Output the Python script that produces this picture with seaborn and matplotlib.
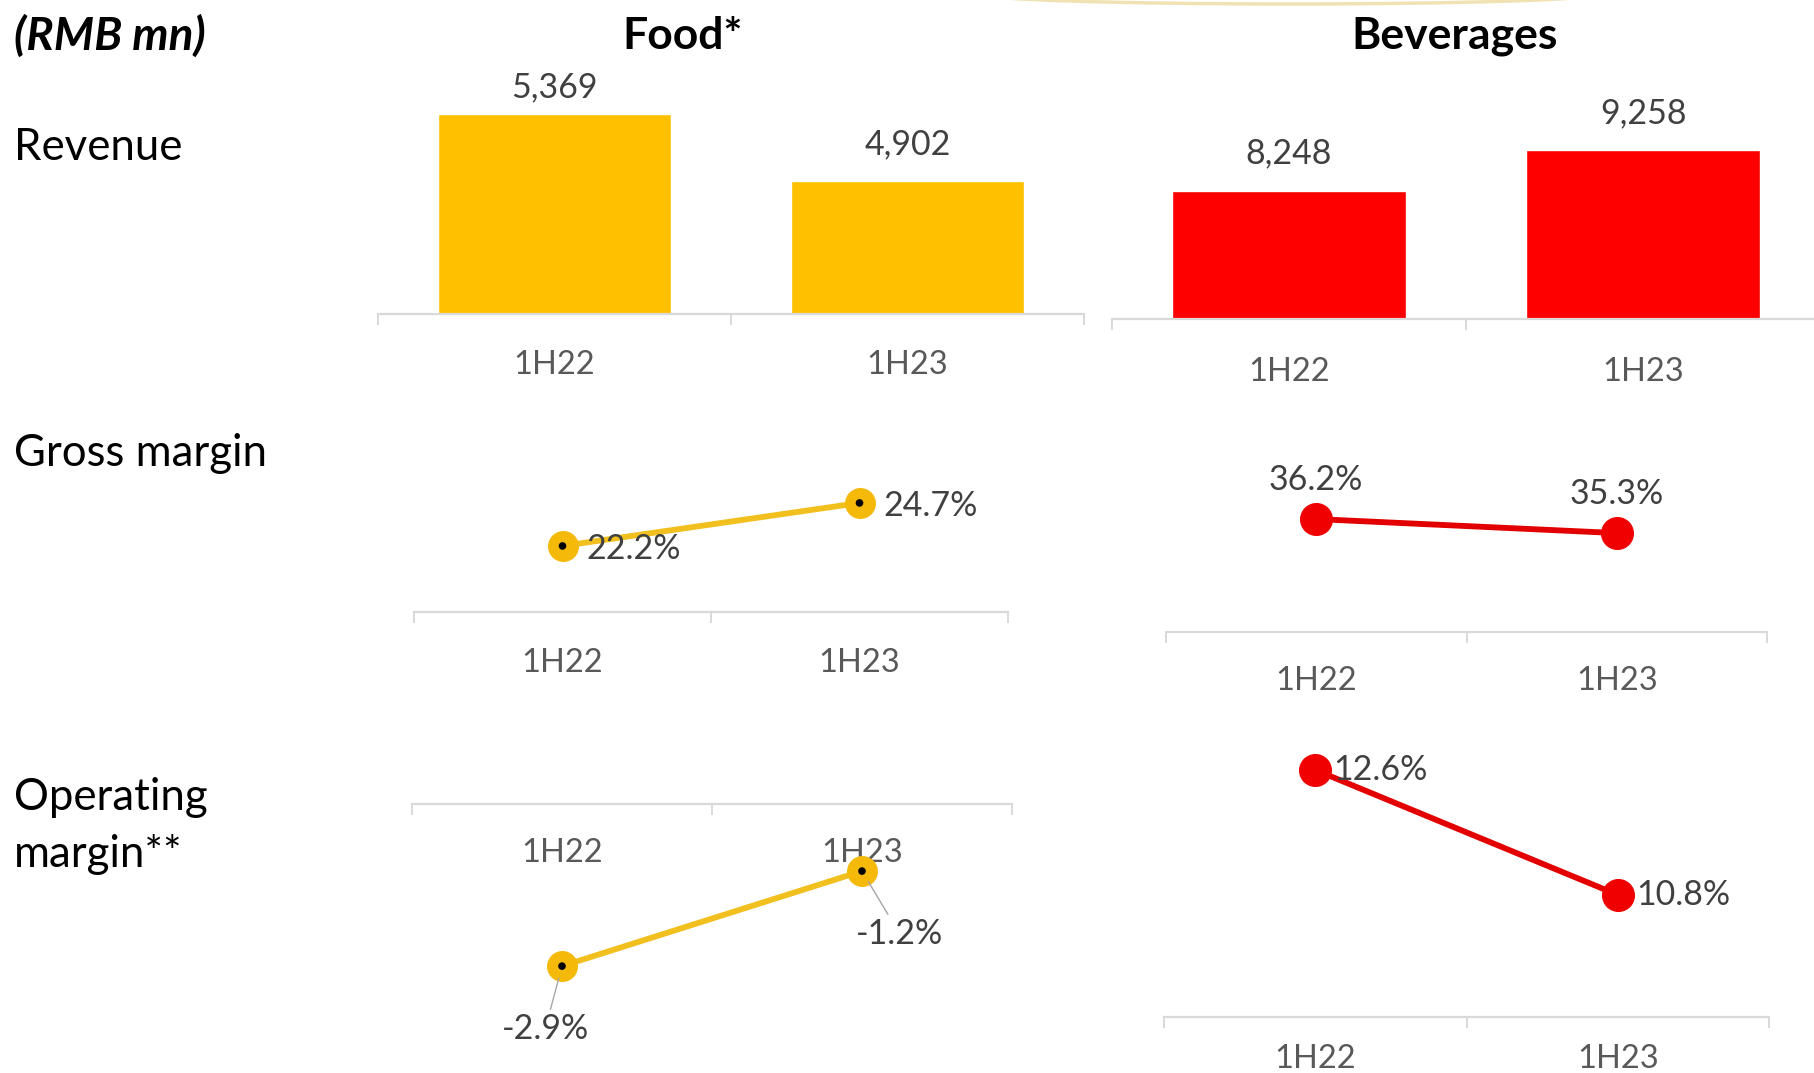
import matplotlib
matplotlib.use("Agg")
import matplotlib.pyplot as plt
from matplotlib.patches import Arc
import seaborn as sns
import pandas as pd

# ---- data -------------------------------------------------------------
periods = ["1H22", "1H23"]
food_revenue = [5369, 4902]
bev_revenue = [8248, 9258]
food_gross_margin = [22.2, 24.7]
bev_gross_margin = [36.2, 35.3]
food_op_margin = [-2.9, -1.2]
bev_op_margin = [12.6, 10.8]

row_titles = ["Revenue", "Gross margin", "Operating\nmargin**"]
col_titles = ["Food*", "Beverages"]
unit_label = "(RMB mn)"

# ---- style ------------------------------------------------------------
sns.set_theme(style="white")
plt.rcParams["font.family"] = ["Lato", "DejaVu Sans"]

FOOD_BAR = "#FFC000"
FOOD_LINE = "#F2C01E"
FOOD_MARK = "#F5B90A"
BEV_BAR = "#FF0000"
BEV_LINE = "#E30000"
BEV_MARK = "#F00000"
AXIS_GREY = "#D9D9D9"
TICK_GREY = "#595959"
VALUE_GREY = "#404040"

TICK_SIZE = 23.5
VALUE_SIZE = 24.5

W, H = 1814, 1073
fig = plt.figure(figsize=(W / 100, H / 100), dpi=100)


def panel(x0, x1, y_top, y_bot, y_base, v_base, px_per_unit):
    """Axes placed in pixel space; y_base is where value v_base sits."""
    ax = fig.add_axes([x0 / W, 1 - y_bot / H, (x1 - x0) / W, (y_bot - y_top) / H])
    lo = v_base - (y_bot - y_base) / px_per_unit
    hi = v_base + (y_base - y_top) / px_per_unit
    ax.set_ylim(lo, hi)
    return ax


def style_axis(ax, label_offset_px, spine_at=None):
    ax.set_xlim(-0.5, 1.5)
    for s in ("left", "right", "top"):
        ax.spines[s].set_visible(False)
    ax.spines["bottom"].set_color(AXIS_GREY)
    ax.spines["bottom"].set_linewidth(1.6)
    if spine_at is not None:
        ax.spines["bottom"].set_position(("data", spine_at))
    ax.set_yticks([])
    ax.set_xlabel("")
    ax.set_ylabel("")
    ax.set_xticks([-0.5, 0.5, 1.5])
    ax.set_xticklabels(["", "", ""])
    ax.set_xticks([0, 1], minor=True)
    ax.set_xticklabels(periods, minor=True)
    ax.tick_params(axis="x", which="major", direction="out", length=8,
                   width=1.4, color=AXIS_GREY, bottom=True)
    ax.tick_params(axis="x", which="minor", length=0, bottom=True,
                   pad=(label_offset_px - 11.5) * 0.72,
                   labelsize=TICK_SIZE, labelcolor=TICK_GREY)
    ax.patch.set_alpha(0)


def bars(ax, values, color, label_gaps_px):
    df = pd.DataFrame({"period": periods, "value": values})
    sns.barplot(data=df, x="period", y="value", color=color, width=0.66,
                saturation=1, ax=ax)
    for i, (v, gap) in enumerate(zip(values, label_gaps_px)):
        ax.annotate(f"{v:,}", xy=(i, v), xytext=(0, gap * 0.72),
                    textcoords="offset points", ha="center", va="center",
                    fontsize=VALUE_SIZE, color=VALUE_GREY)


def line(ax, values, line_color, mark_color, mark_size, center_dot):
    df = pd.DataFrame({"period": periods, "value": values})
    sns.lineplot(data=df, x="period", y="value", color=line_color,
                 linewidth=4.2, marker="o", markersize=mark_size,
                 markerfacecolor=mark_color, markeredgecolor=mark_color,
                 ax=ax, zorder=3)
    if center_dot:
        sns.scatterplot(data=df, x="period", y="value", color="black", s=30,
                        edgecolor="none", ax=ax, zorder=4)


# ---- Revenue row --------------------------------------------------------
ax = panel(378, 1084, 40, 314, 314, 3976, 0.1435)
bars(ax, food_revenue, FOOD_BAR, [27, 37])
style_axis(ax, 47)

ax = panel(1112, 1820, 40, 319, 319, 5100, 0.0406)
bars(ax, bev_revenue, BEV_BAR, [38, 37])
style_axis(ax, 49)

# ---- Gross margin row ---------------------------------------------------
ax = panel(414, 1008, 470, 612, 612, 18.36, 17.2)
line(ax, food_gross_margin, FOOD_LINE, FOOD_MARK, 21.5, True)
style_axis(ax, 47)
for i, v in enumerate(food_gross_margin):
    ax.annotate(f"{v:.1f}%", xy=(i, v), xytext=(17, -2), textcoords="offset points",
                ha="left", va="center", fontsize=VALUE_SIZE, color=VALUE_GREY, zorder=5)

ax = panel(1166, 1767, 440, 632, 632, 28.96, 15.6)
line(ax, bev_gross_margin, BEV_LINE, BEV_MARK, 23, False)
style_axis(ax, 46)
for i, v in enumerate(bev_gross_margin):
    ax.annotate(f"{v:.1f}%", xy=(i, v), xytext=(0, 28), textcoords="offset points",
                ha="center", va="center", fontsize=VALUE_SIZE, color=VALUE_GREY)

# ---- Operating margin row ----------------------------------------------
ax = panel(412, 1012, 740, 1060, 804, 0.0, 55.9)
line(ax, food_op_margin, FOOD_LINE, FOOD_MARK, 21.5, True)
style_axis(ax, 46, spine_at=0)
op_food_offsets = [(-12, -45), (27, -45)]
for i, (v, off) in enumerate(zip(food_op_margin, op_food_offsets)):
    ax.annotate(f"{v:.1f}%", xy=(i, v), xytext=off, textcoords="offset points",
                ha="center", va="center", fontsize=VALUE_SIZE, color=VALUE_GREY,
                arrowprops=dict(arrowstyle="-", color="#A6A6A6", lw=1,
                                shrinkA=0, shrinkB=9))

ax = panel(1164, 1769, 700, 1017, 1017, 9.04, 69.4)
line(ax, bev_op_margin, BEV_LINE, BEV_MARK, 23, False)
style_axis(ax, 39)
for i, v in enumerate(bev_op_margin):
    ax.annotate(f"{v:.1f}%", xy=(i, v), xytext=(13, 0), textcoords="offset points",
                ha="left", va="center", fontsize=VALUE_SIZE, color=VALUE_GREY, zorder=5)

# ---- headings and row titles -------------------------------------------
fig.text(14 / W, 1 - 36 / H, unit_label, fontsize=33, fontweight="bold",
         fontstyle="italic", ha="left", va="center", color="black")
fig.text(683 / W, 1 - 36 / H, col_titles[0], fontsize=32, fontweight="bold",
         ha="center", va="center", color="black")
fig.text(1455 / W, 1 - 36 / H, col_titles[1], fontsize=32, fontweight="bold",
         ha="center", va="center", color="black")

row_y = [147, 454, 826]
for title, y in zip(row_titles, row_y):
    fig.text(14 / W, 1 - y / H, title, fontsize=31.5, ha="left", va="center",
             color="black", linespacing=1.5)

# faint decorative arc along the top edge
fig.add_artist(Arc((1290 / W, 1 + 6 / H), 2 * 310 / W, 2 * 10 / H,
                   theta1=180, theta2=360, transform=fig.transFigure,
                   color="#F1E2B4", lw=2.5))

fig.savefig("out.png", dpi=100)
